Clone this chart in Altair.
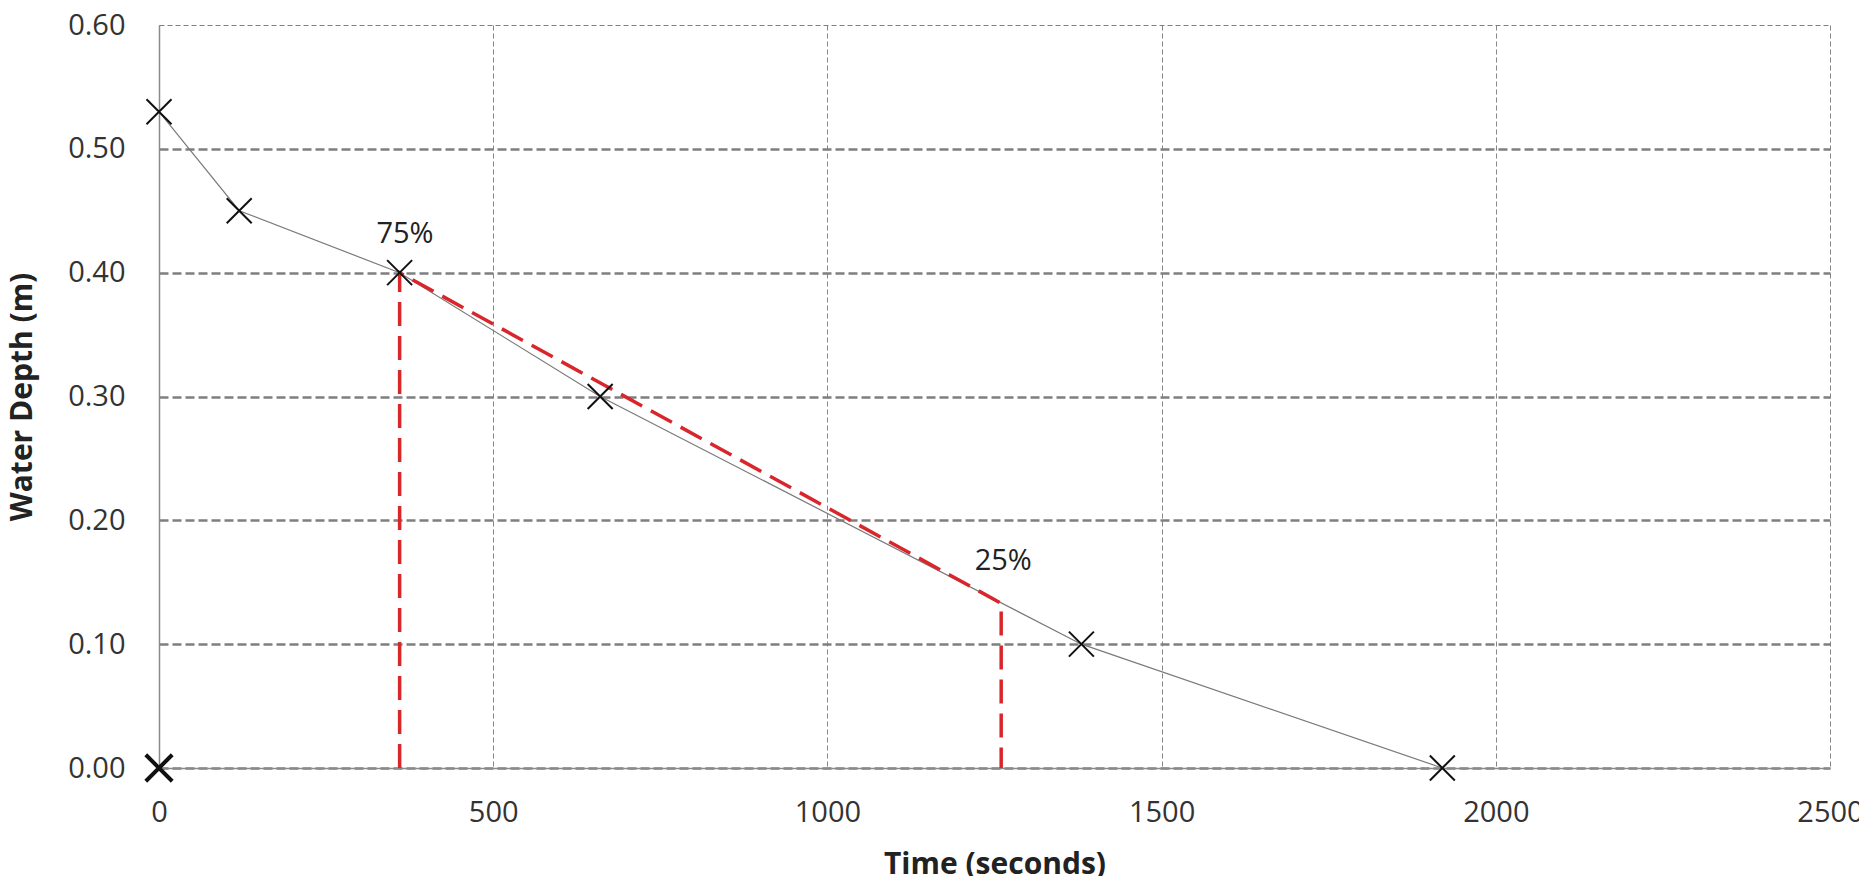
import altair as alt
import pandas as pd

# measured series
time_s = [0, 120, 360, 660, 1380, 1920]
depth_m = [0.53, 0.45, 0.40, 0.30, 0.10, 0.00]

# separate (unconnected) marker at origin
origin_time = [0]
origin_depth = [0.0]

# red dashed construction line (75% -> 25%)
red_time = [360, 360, 1260, 1260]
red_depth = [0.0, 0.40, 0.133, 0.0]

# annotations
ann_text = ["75%", "25%"]
ann_time = [368, 1263]
ann_depth = [0.431, 0.167]

x_ticks = [0, 500, 1000, 1500, 2000, 2500]
y_ticks = [0.0, 0.1, 0.2, 0.3, 0.4, 0.5, 0.6]

FONT = "Open Sans"

df = pd.DataFrame({"t": time_s, "d": depth_m})
df0 = pd.DataFrame({"t": origin_time, "d": origin_depth})
dfr = pd.DataFrame({"t": red_time, "d": red_depth, "o": list(range(len(red_time)))})
dfa = pd.DataFrame({"t": ann_time, "d": ann_depth, "txt": ann_text})

xs = alt.Scale(domain=[0, 2500], nice=False, zero=False)
ys = alt.Scale(domain=[0, 0.6], nice=False, zero=False)

X_SHAPE = "M-1,-1L1,1M-1,1L1,-1"

xenc = alt.X(
    "t:Q", scale=xs, title="Time (seconds)",
    axis=alt.Axis(values=x_ticks, format="d", ticks=False, labelPadding=30,
                  titlePadding=22, labelFontSize=29, titleFontSize=30,
                  titleFontWeight="bold", gridDash=[5, 3], gridWidth=1,
                  gridColor="#858585", domainColor="#8a8a8a", domainWidth=1.5,
                  labelColor="#333333", titleColor="#222222", labelFont=FONT,
                  titleFont=FONT, labelFlush=False),
)
yenc = alt.Y(
    "d:Q", scale=ys, title="Water Depth (m)",
    axis=alt.Axis(values=y_ticks, format=".2f", ticks=False, labelPadding=34,
                  titlePadding=30, labelFontSize=29, titleFontSize=30,
                  titleFontWeight="bold",
                  gridDash=alt.ExprRef("datum.value > 0.59 ? [5, 3] : [9, 4]"),
                  gridWidth=alt.ExprRef("datum.value > 0.59 ? 1 : 2.5"),
                  gridColor="#7f7f7f", domainColor="#8a8a8a", domainWidth=1.5,
                  labelColor="#333333", titleColor="#222222", labelFont=FONT,
                  titleFont=FONT, labelFlush=False),
)

line = alt.Chart(df).mark_line(color="#7a7a7a", strokeWidth=1.2).encode(
    x=xenc, y=yenc
)

red = alt.Chart(dfr).mark_line(color="#d8262b", strokeWidth=3.5, strokeDash=[24, 10]).encode(
    x=alt.X("t:Q", scale=xs), y=alt.Y("d:Q", scale=ys), order="o:Q"
)

pts = alt.Chart(df).mark_point(shape=X_SHAPE, size=625, filled=False,
                               color="#111111", strokeWidth=2, opacity=1).encode(
    x=alt.X("t:Q", scale=xs), y=alt.Y("d:Q", scale=ys)
)

pt0 = alt.Chart(df0).mark_point(shape=X_SHAPE, size=700, filled=False,
                                color="#111111", strokeWidth=4, opacity=1).encode(
    x=alt.X("t:Q", scale=xs), y=alt.Y("d:Q", scale=ys)
)

ann = alt.Chart(dfa).mark_text(font=FONT, fontSize=29, color="#222222",
                               align="center", baseline="middle").encode(
    x=alt.X("t:Q", scale=xs), y=alt.Y("d:Q", scale=ys), text="txt:N"
)

chart = alt.layer(line, red, pts, pt0, ann).properties(
    width=1671, height=743,
    autosize=alt.AutoSizeParams(type="none"),
    padding={"left": 159, "top": 25, "right": 29, "bottom": 108},
    background="white",
).configure_view(stroke=None)

chart.save("out.html", embed_options={"renderer": "svg", "actions": False})
